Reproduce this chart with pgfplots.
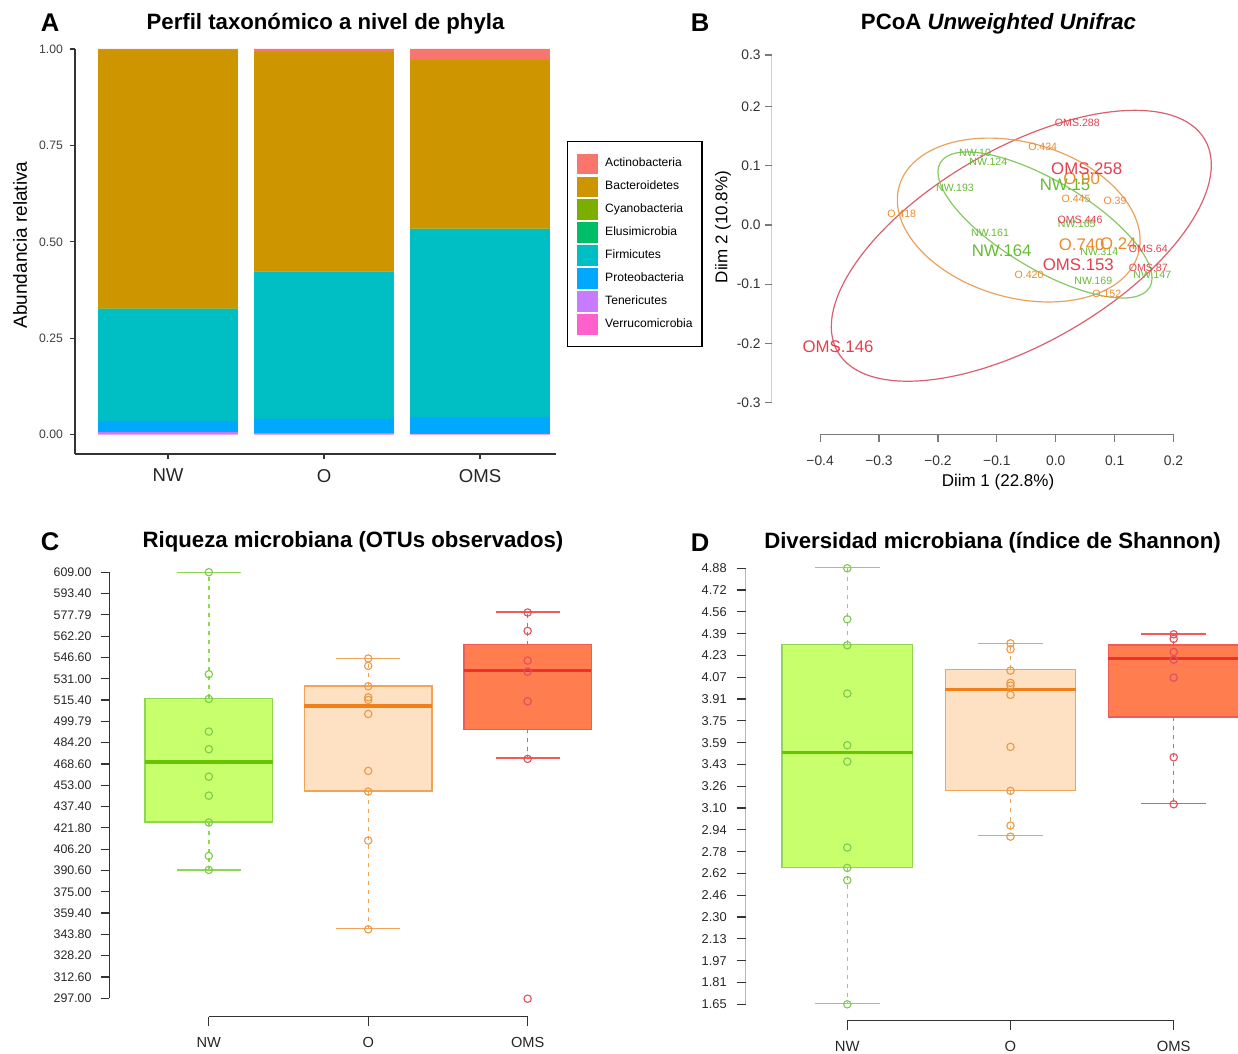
\documentclass[border=0pt]{standalone}
\usepackage{fontspec}
\setmainfont{Liberation Sans}
\usepackage{pgfplots}
\pgfplotsset{compat=1.18}
\usepgfplotslibrary{statistics}
\definecolor{cActino}{HTML}{F8766D}
\definecolor{cBact}{HTML}{CD9600}
\definecolor{cCyano}{HTML}{7CAE00}
\definecolor{cElusi}{HTML}{00BE67}
\definecolor{cFirm}{HTML}{00BFC4}
\definecolor{cProteo}{HTML}{00A9FF}
\definecolor{cTener}{HTML}{C77CFF}
\definecolor{cVerru}{HTML}{FF61CC}
\definecolor{axgray}{HTML}{333333}
\definecolor{bgray}{HTML}{7A7A7A}
\definecolor{rlab}{HTML}{E2404F}
\definecolor{rell}{HTML}{D9606F}
\definecolor{olab}{HTML}{EC8A2A}
\definecolor{oell}{HTML}{E9A25E}
\definecolor{glab}{HTML}{66BB33}
\definecolor{gell}{HTML}{86C863}
\definecolor{nwfill}{HTML}{C8FF6C}
\definecolor{nwline}{HTML}{8FD655}
\definecolor{nwmed}{HTML}{66C400}
\definecolor{nwpt}{HTML}{7DCB4A}
\definecolor{ofill}{HTML}{FDE1C2}
\definecolor{oline}{HTML}{F0A458}
\definecolor{omed}{HTML}{F28018}
\definecolor{opt}{HTML}{EB9A45}
\definecolor{mfill}{HTML}{FF7D4E}
\definecolor{mline}{HTML}{F05A5A}
\definecolor{mmed}{HTML}{F0302A}
\definecolor{mpt}{HTML}{E2505A}
\newcommand{\fs}[1]{\fontsize{#1}{#1}\selectfont}
\pgfplotsset{
  rbox/.style={tick align=outside, separate axis lines,
    axis x line*=bottom, axis y line*=left, axis line style={draw=none},
    tick style={axgray, line width=0.6pt}},
  ptsty/.style={only marks, mark=o, mark size=1.85pt, mark options={line width=0.55pt}},
  lab/.style={only marks, mark=*, mark size=0pt, mark options={draw=none,fill=none},
    nodes near coords, point meta=explicit symbolic,
    nodes near coords align={anchor=center}},
}
\begin{document}
\begin{tikzpicture}
\useasboundingbox (0,0) rectangle (619pt,527pt);
% panel letters and titles
\node[font=\fs{12.8}\bfseries] at (25pt,515.5pt) {A};
\node[font=\fs{11.1}\bfseries] at (162.75pt,515pt) {Perfil taxonómico a nivel de phyla};
\node[font=\fs{12.8}\bfseries] at (350pt,515.5pt) {B};
\node[font=\fs{11.1}\bfseries] at (499.25pt,515pt) {PCoA \itshape Unweighted Unifrac};
\node[font=\fs{12.8}\bfseries] at (25pt,256pt) {C};
\node[font=\fs{11.1}\bfseries] at (176.5pt,256pt) {Riqueza microbiana (OTUs observados)};
\node[font=\fs{12.8}\bfseries] at (350pt,255.5pt) {D};
\node[font=\fs{11.1}\bfseries] at (496.25pt,255.5pt) {Diversidad microbiana (índice de Shannon)};
% axis labels
\node[font=\fs{9.5}, rotate=90] at (10pt,404.5pt) {Abundancia relativa};
\node[font=\fs{8.5}] at (499pt,286.15pt) {Diim 1 (22.8\%)};
\node[font=\fs{8.5}, rotate=90] at (361.5pt,413.5pt) {Diim 2 (10.8\%)};

% ---------------- Panel A ----------------
\begin{axis}[
  at={(37.5pt,300pt)}, anchor=south west, scale only axis,
  width=240.5pt, height=202.5pt,
  ybar stacked, bar width=0.897,
  xmin=0.4038, xmax=3.487, ymin=-0.05, ymax=1.0,
  axis x line*=bottom, axis y line*=left,
  axis line style={axgray, line width=0.6pt},
  xtick={1,2,3}, xticklabels={NW,O,OMS},
  ytick={0,0.25,0.5,0.75,1}, yticklabels={0.00,0.25,0.50,0.75,1.00},
  tick align=outside, major tick length=2.5pt,
  tick style={axgray, line width=0.6pt},
  yticklabel style={font=\fs{6.1}, text=black!75},
  xticklabel style={font=\fs{9.3}, text=black!85, yshift=-1.5pt},
  reverse legend, legend cell align=left,
  legend style={at={(1.0229,0.7728)}, anchor=north west, draw=black,
    line width=0.6pt, fill=white, font=\fs{6.05}, row sep=1.15pt,
    inner xsep=4.7pt, inner ysep=6pt, nodes={inner xsep=0pt},
    /tikz/every odd column/.append style={column sep=3.8pt}},
  every axis plot post/.append style={draw=none,
    legend image code/.code={\fill[##1] (0pt,-5.15pt) rectangle (10.3pt,5.15pt);}},
]
\addplot[fill=cVerru] coordinates {(1,0.001) (2,0.001) (3,0.001)};
\addlegendentry{Verrucomicrobia}
\addplot[fill=cTener] coordinates {(1,0.006) (2,0.003) (3,0.001)};
\addlegendentry{Tenericutes}
\addplot[fill=cProteo] coordinates {(1,0.029) (2,0.037) (3,0.044)};
\addlegendentry{Proteobacteria}
\addplot[fill=cFirm] coordinates {(1,0.290) (2,0.382) (3,0.487)};
\addlegendentry{Firmicutes}
\addplot[fill=cElusi] coordinates {(1,0.0005) (2,0.0005) (3,0.0005)};
\addlegendentry{Elusimicrobia}
\addplot[fill=cCyano] coordinates {(1,0.0005) (2,0.0005) (3,0.0005)};
\addlegendentry{Cyanobacteria}
\addplot[fill=cBact] coordinates {(1,0.671) (2,0.568) (3,0.4375)};
\addlegendentry{Bacteroidetes}
\addplot[fill=cActino] coordinates {(1,0.002) (2,0.008) (3,0.0285)};
\addlegendentry{Actinobacteria}
\end{axis}

% ---------------- Panel B ----------------
\begin{axis}[
  at={(385.85pt,309.5pt)}, anchor=south west, scale only axis,
  width=233.15pt, height=197.5pt,
  xmin=-0.4822, xmax=0.3095, ymin=-0.3547, ymax=0.3125,
  rbox, major tick length=3.5pt, tick style={bgray, line width=0.6pt},
  xtick={-0.4,-0.3,-0.2,-0.1,0,0.1,0.2},
  xticklabels={−0.4,−0.3,−0.2,−0.1,0.0,0.1,0.2},
  ytick={-0.3,-0.2,-0.1,0,0.1,0.2,0.2872},
  yticklabels={-0.3,-0.2,-0.1,0.0,0.1,0.2,0.3},
  yticklabel style={font=\fs{6.9}, text=black!80, xshift=1.5pt},
  xticklabel style={font=\fs{6.9}, text=black!80, yshift=-3.5pt},
]
\draw[bgray, line width=0.6pt] (axis cs:-0.4,-0.3547) -- (axis cs:0.2,-0.3547);
\draw[bgray, line width=0.6pt] (axis cs:-0.4822,-0.3) -- (axis cs:-0.4822,0.2872);
\draw[rell, line width=0.6pt, rotate around={30:(axis cs:-0.0584,-0.0351)}]
  (axis cs:-0.0584,-0.0351) ellipse [x radius=0.360, y radius=0.1644];
\draw[oell, line width=0.6pt, rotate around={-15.8:(axis cs:-0.0628,0.0084)}]
  (axis cs:-0.0628,0.0084) ellipse [x radius=0.2109, y radius=0.131];
\draw[gell, line width=0.6pt, rotate around={-30.8:(axis cs:-0.0182,0.0)}]
  (axis cs:-0.0182,0.0) ellipse [x radius=0.2068, y radius=0.0746];
% green
\addplot[lab, every node near coord/.append style={font=\fs{5.3}, text=glab}]
  table[meta=l] {
x y l
-0.1370 0.1221 NW.10
-0.1144 0.1069 NW.124
-0.1710 0.0620 NW.193
0.0357 0.0017 NW.165
-0.1115 -0.0140 NW.161
0.0740 -0.0461 NW.314
0.1640 -0.0845 NW.147
0.0638 -0.0946 NW.169
};
\addplot[lab, every node near coord/.append style={font=\fs{8.4}, text=glab}]
  table[meta=l] {
x y l
0.0158 0.0676 NW.15
-0.0917 -0.0434 NW.164
};
% orange
\addplot[lab, every node near coord/.append style={font=\fs{5.3}, text=olab}]
  table[meta=l] {
x y l
-0.0221 0.1323 O.434
0.0345 0.0444 O.445
0.1007 0.0400 O.39
-0.2615 0.0181 O.418
-0.0453 -0.0845 O.420
0.0866 -0.1171 O.152
};
\addplot[lab, every node near coord/.append style={font=\fs{8.4}, text=olab}]
  table[meta=l] {
x y l
0.0441 0.0789 O.90
0.0441 -0.0338 O.740
0.1063 -0.0309 O.24
};
% red
\addplot[lab, every node near coord/.append style={font=\fs{5.3}, text=rlab}]
  table[meta=l] {
x y l
0.0367 0.1718 OMS.288
0.0413 0.0084 OMS.446
0.1572 -0.0410 OMS.64
0.1572 -0.0731 OMS.87
};
\addplot[lab, every node near coord/.append style={font=\fs{8.4}, text=rlab}]
  table[meta=l] {
x y l
0.0526 0.0958 OMS.258
0.0384 -0.0676 OMS.153
-0.3696 -0.2061 OMS.146
};
\end{axis}

% ---------------- Panel C ----------------
\begin{axis}[
  at={(54.6pt,18.5pt)}, anchor=south west, scale only axis,
  width=245.4pt, height=226pt,
  xmin=0.375, xmax=3.454, ymin=283.3, ymax=614.3,
  rbox, major tick length=4.3pt,
  xtick={1,2,3}, xticklabels={NW,O,OMS},
  ytick={297,312.6,328.2,343.8,359.4,375,390.6,406.2,421.8,437.4,453,468.6,484.2,499.8,515.4,531,546.6,562.2,577.8,593.4,609},
  yticklabels={297.00,312.60,328.20,343.80,359.40,375.00,390.60,406.20,421.80,437.40,453.00,468.60,484.20,499.79,515.40,531.00,546.60,562.20,577.79,593.40,609.00},
  yticklabel style={font=\fs{6.2}, text=black!85, xshift=-1pt},
  xticklabel style={font=\fs{7.3}, text=black!85, yshift=-2.2pt},
  boxplot/draw direction=y,
]
\draw[axgray, line width=0.6pt] (axis cs:1,283.3) -- (axis cs:3,283.3);
\draw[axgray, line width=0.6pt] (axis cs:0.375,297) -- (axis cs:0.375,609);
% NW
\addplot[boxplot prepared={draw position=1, lower whisker=391, lower quartile=426.1,
  median=470.1, upper quartile=516.7, upper whisker=609, box extend=0.8, whisker extend=0},
  draw=nwline, fill=nwfill, line width=0.7pt,
  boxplot/every whisker/.style={dash pattern=on 2pt off 2.5pt},
  boxplot/every median/.style={draw=nwmed, line width=1.6pt}] coordinates {};
\addplot[nwline, line width=0.7pt] coordinates {(0.8,609) (1.2,609)};
\addplot[nwline, line width=0.7pt] coordinates {(0.8,391) (1.2,391)};
\addplot[ptsty, nwpt] coordinates {(1,609) (1,534.3) (1,516.2) (1,492.3) (1,479.4) (1,459.3) (1,445.4) (1,425.7) (1,401.2) (1,391)};
% O
\addplot[boxplot prepared={draw position=2, lower whisker=348, lower quartile=448.8,
  median=511.1, upper quartile=525.7, upper whisker=546, box extend=0.8, whisker extend=0},
  draw=oline, fill=ofill, line width=0.7pt,
  boxplot/every whisker/.style={dash pattern=on 2pt off 2.5pt},
  boxplot/every median/.style={draw=omed, line width=1.6pt}] coordinates {};
\addplot[oline, line width=0.7pt] coordinates {(1.8,546) (2.2,546)};
\addplot[oline, line width=0.7pt] coordinates {(1.8,348) (2.2,348)};
\addplot[ptsty, opt] coordinates {(2,545.8) (2,540.4) (2,525.5) (2,517.4) (2,515.5) (2,505.2) (2,463.5) (2,448.4) (2,412.5) (2,347.5)};
% OMS
\addplot[boxplot prepared={draw position=3, lower whisker=473, lower quartile=494,
  median=537, upper quartile=556, upper whisker=580, box extend=0.8, whisker extend=0},
  draw=mline, fill=mfill, line width=0.7pt,
  boxplot/every whisker/.style={dash pattern=on 2pt off 2.5pt},
  boxplot/every median/.style={draw=mmed, line width=1.6pt}] coordinates {};
\addplot[mline, line width=0.7pt] coordinates {(2.8,580) (3.2,580)};
\addplot[mline, line width=0.7pt] coordinates {(2.8,473) (3.2,473)};
\addplot[ptsty, mpt] coordinates {(3,579.5) (3,566) (3,544.3) (3,536.2) (3,514.5) (3,472.3) (3,296.7)};
\end{axis}

% ---------------- Panel D ----------------
\begin{axis}[
  at={(372.85pt,16.5pt)}, anchor=south west, scale only axis,
  width=246.15pt, height=230.5pt,
  xmin=0.3775, xmax=3.394, ymin=1.5263, ymax=4.9415,
  rbox, major tick length=4.5pt,
  xtick={1,2,3}, xticklabels={NW,O,OMS},
  ytick={1.65,1.8115,1.973,2.1345,2.296,2.4575,2.619,2.7805,2.942,3.1035,3.265,3.4265,3.588,3.7495,3.911,4.0725,4.234,4.3955,4.557,4.7185,4.88},
  yticklabels={1.65,1.81,1.97,2.13,2.30,2.46,2.62,2.78,2.94,3.10,3.26,3.43,3.59,3.75,3.91,4.07,4.23,4.39,4.56,4.72,4.88},
  yticklabel style={font=\fs{6.4}, text=black!85, xshift=-1.5pt},
  xticklabel style={font=\fs{7.4}, text=black!85, yshift=-2.3pt},
  boxplot/draw direction=y,
]
\draw[axgray, line width=0.6pt] (axis cs:1,1.5263) -- (axis cs:3,1.5263);
\draw[axgray, line width=0.6pt] (axis cs:0.3775,1.65) -- (axis cs:0.3775,4.88);
% NW
\addplot[boxplot prepared={draw position=1, lower whisker=1.658, lower quartile=2.665,
  median=3.515, upper quartile=4.317, upper whisker=4.885, box extend=0.8, whisker extend=0},
  draw=nwline, fill=nwfill, line width=0.7pt,
  boxplot/every whisker/.style={dash pattern=on 2pt off 2.5pt},
  boxplot/every median/.style={draw=nwmed, line width=1.6pt}] coordinates {};
\addplot[nwline, line width=0.7pt] coordinates {(0.8,4.885) (1.2,4.885)};
\addplot[nwline, line width=0.7pt] coordinates {(0.8,1.658) (1.2,1.658)};
\addplot[ptsty, nwpt] coordinates {(1,4.88) (1,4.502) (1,4.310) (1,3.952) (1,3.569) (1,3.448) (1,2.811) (1,2.660) (1,2.569) (1,1.65)};
% O
\addplot[boxplot prepared={draw position=2, lower whisker=2.900, lower quartile=3.236,
  median=3.981, upper quartile=4.132, upper whisker=4.324, box extend=0.8, whisker extend=0},
  draw=oline, fill=ofill, line width=0.7pt,
  boxplot/every whisker/.style={dash pattern=on 2pt off 2.5pt},
  boxplot/every median/.style={draw=omed, line width=1.6pt}] coordinates {};
\addplot[oline, line width=0.7pt] coordinates {(1.8,4.324) (2.2,4.324)};
\addplot[oline, line width=0.7pt] coordinates {(1.8,2.900) (2.2,2.900)};
\addplot[ptsty, opt] coordinates {(2,4.324) (2,4.28) (2,4.122) (2,4.031) (2,4.011) (2,3.942) (2,3.557) (2,3.231) (2,2.974) (2,2.892)};
% OMS
\addplot[boxplot prepared={draw position=3, lower whisker=3.137, lower quartile=3.779,
  median=4.211, upper quartile=4.312, upper whisker=4.394, box extend=0.8, whisker extend=0},
  draw=mline, fill=mfill, line width=0.7pt,
  boxplot/every whisker/.style={dash pattern=on 2pt off 2.5pt},
  boxplot/every median/.style={draw=mmed, line width=1.6pt}] coordinates {};
\addplot[mline, line width=0.7pt] coordinates {(2.8,4.394) (3.2,4.394)};
\addplot[mline, line width=0.7pt] coordinates {(2.8,3.137) (3.2,3.137)};
\addplot[ptsty, mpt] coordinates {(3,4.391) (3,4.357) (3,4.260) (3,4.203) (3,4.070) (3,3.480) (3,3.132)};
\end{axis}
\end{tikzpicture}
\end{document}
